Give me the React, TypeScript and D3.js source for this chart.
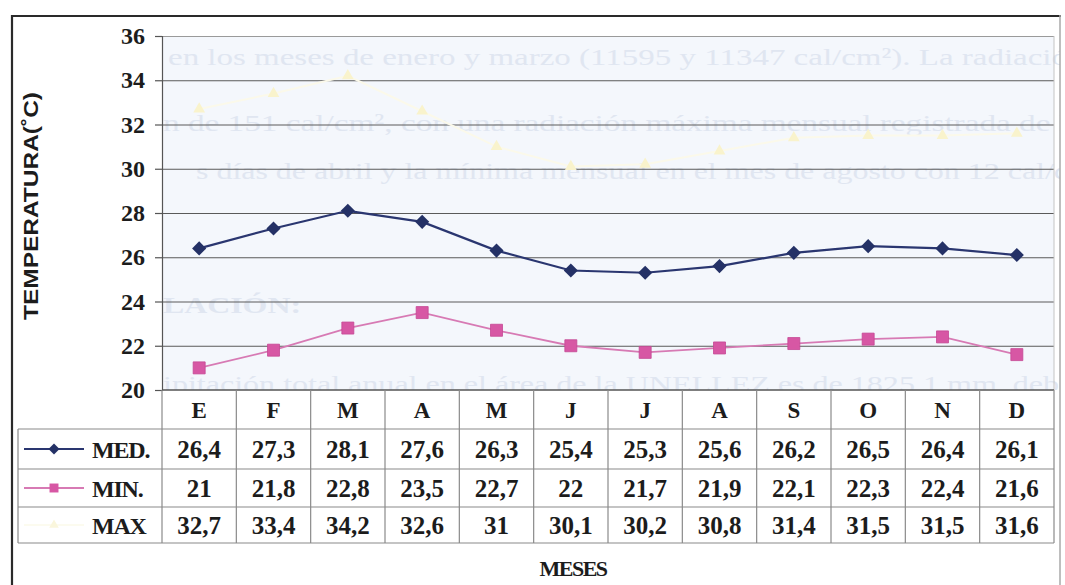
import * as d3 from "d3";
import React, { useEffect, useRef } from "react";

// months (letters repeat, so the band scale works on the index)
const months = ["E", "F", "M", "A", "M", "J", "J", "A", "S", "O", "N", "D"];
const medValues = [26.4, 27.3, 28.1, 27.6, 26.3, 25.4, 25.3, 25.6, 26.2, 26.5, 26.4, 26.1];
const minValues = [21, 21.8, 22.8, 23.5, 22.7, 22, 21.7, 21.9, 22.1, 22.3, 22.4, 21.6];
const maxValues = [32.7, 33.4, 34.2, 32.6, 31, 30.1, 30.2, 30.8, 31.4, 31.5, 31.5, 31.6];
const seriesNames = ["MED.", "MIN.", "MAX"];
const yTicks = [20, 22, 24, 26, 28, 30, 32, 34, 36];

// text bleeding through from the back of the scanned page
const ghostLines = [
  "en los meses de enero y  marzo (11595 y 11347 cal/cm²). La radiació",
  "n de 151 cal/cm², con una radiación máxima mensual registrada de l",
  "s días de abril y la mínima mensual en el mes de agosto con 12 cal/c",
  "LACIÓN:",
  "ipitación total anual en el área de la UNELLEZ es de 1825,1 mm, debi",
];

const W = 1065;
const H = 585;
const serif = "'Liberation Serif', 'Times New Roman', serif";
const sans = "'Liberation Sans', Arial, sans-serif";

const fmt = (v) => String(v).replace(".", ",");

const App = () => {
  const svgRef = useRef();

  useEffect(() => {
    const plot = { left: 162, right: 1054, top: 36, bottom: 390 };
    const rowY = [390, 429, 469, 507, 543];
    const tableLeft = 18;

    const svg = d3
      .select(svgRef.current)
      .html("")
      .attr("width", W)
      .attr("height", H)
      .attr("viewBox", `0 0 ${W} ${H}`);

    svg.append("rect").attr("width", W).attr("height", H).attr("fill", "#ffffff");

    const x = d3
      .scaleBand()
      .domain(months.map((d, i) => i))
      .range([plot.left, plot.right]);
    const y = d3.scaleLinear().domain([20, 36]).range([plot.bottom, plot.top]);

    // plot background
    svg
      .append("rect")
      .attr("x", plot.left)
      .attr("y", plot.top)
      .attr("width", plot.right - plot.left)
      .attr("height", plot.bottom - plot.top)
      .attr("fill", "#f4f7fc");

    // ghost text clipped to the plot
    svg
      .append("clipPath")
      .attr("id", "plotClip")
      .append("rect")
      .attr("x", plot.left)
      .attr("y", plot.top)
      .attr("width", plot.right - plot.left + 6)
      .attr("height", plot.bottom - plot.top);
    const ghost = svg.append("g").attr("clip-path", "url(#plotClip)");
    const ghostPos = [
      { x: 168, y: 65, w: 900 },
      { x: 163, y: 131, w: 905 },
      { x: 196, y: 179, w: 872 },
      { x: 163, y: 313, w: 138 },
      { x: 163, y: 392, w: 905 },
    ];
    ghost
      .selectAll("text")
      .data(ghostLines)
      .join("text")
      .attr("x", (d, i) => ghostPos[i].x)
      .attr("y", (d, i) => ghostPos[i].y)
      .attr("textLength", (d, i) => ghostPos[i].w)
      .attr("lengthAdjust", "spacingAndGlyphs")
      .style("font-family", serif)
      .style("font-size", "24px")
      .style("font-weight", (d, i) => (i === 3 ? "bold" : "normal"))
      .style("fill", "#e0e6f1")
      .text((d) => d);

    // gridlines
    svg
      .append("g")
      .selectAll("line")
      .data(yTicks.slice(1))
      .join("line")
      .attr("x1", plot.left)
      .attr("x2", plot.right)
      .attr("y1", (d) => y(d) + 0.5)
      .attr("y2", (d) => y(d) + 0.5)
      .attr("stroke", (d) => (d === 36 ? "#9a9a9a" : "#5a5a5a"))
      .attr("stroke-width", 1.2);

    // plot right edge
    svg
      .append("line")
      .attr("x1", plot.right)
      .attr("x2", plot.right)
      .attr("y1", plot.top)
      .attr("y2", plot.bottom)
      .attr("stroke", "#c4c4c4");

    // y axis
    const yAxis = svg
      .append("g")
      .attr("transform", `translate(${plot.left},0)`)
      .call(d3.axisLeft(y).tickValues(yTicks).tickSize(7).tickPadding(10));
    yAxis.select(".domain").attr("stroke", "#555").attr("stroke-width", 1.2);
    yAxis.selectAll(".tick line").attr("stroke", "#555").attr("stroke-width", 1.2);
    yAxis
      .selectAll(".tick text")
      .style("font-family", serif)
      .style("font-size", "24px")
      .style("font-weight", "bold")
      .style("fill", "#1c1c1c");

    // y title
    svg
      .append("text")
      .attr("transform", `translate(38,206) rotate(-90)`)
      .attr("text-anchor", "middle")
      .attr("textLength", 228)
      .attr("lengthAdjust", "spacingAndGlyphs")
      .style("font-family", sans)
      .style("font-size", "20px")
      .style("font-weight", "bold")
      .style("fill", "#1c1c1c")
      .text("TEMPERATURA(˚C)");

    // series lines and markers
    const cx = (i) => x(i) + x.bandwidth() / 2;
    const line = d3
      .line()
      .x((d, i) => cx(i))
      .y((d) => y(d));

    // MAX is almost washed out in the scan
    svg
      .append("path")
      .datum(maxValues)
      .attr("d", line)
      .attr("fill", "none")
      .attr("stroke", "#fbf9ea")
      .attr("stroke-width", 2);
    svg
      .append("g")
      .selectAll("path")
      .data(maxValues)
      .join("path")
      .attr("transform", (d, i) => `translate(${cx(i)},${y(d)})`)
      .attr("d", d3.symbol(d3.symbolTriangle, 60)())
      .attr("fill", "#f9f3cc");

    svg
      .append("path")
      .datum(minValues)
      .attr("d", line)
      .attr("fill", "none")
      .attr("stroke", "#d77ab4")
      .attr("stroke-width", 1.8);
    svg
      .append("g")
      .selectAll("path")
      .data(minValues)
      .join("path")
      .attr("transform", (d, i) => `translate(${cx(i)},${y(d)})`)
      .attr("d", d3.symbol(d3.symbolSquare, 144)())
      .attr("fill", "#d757a4")
      .attr("stroke", "#c54894")
      .attr("stroke-width", 0.8);

    svg
      .append("path")
      .datum(medValues)
      .attr("d", line)
      .attr("fill", "none")
      .attr("stroke", "#2a3670")
      .attr("stroke-width", 2.2);
    svg
      .append("g")
      .selectAll("path")
      .data(medValues)
      .join("path")
      .attr("transform", (d, i) => `translate(${cx(i)},${y(d)}) rotate(45)`)
      .attr("d", d3.symbol(d3.symbolSquare, 100)())
      .attr("fill", "#243166");

    // data table
    const table = svg.append("g");
    const gridColor = "#8a8a8a";
    table
      .selectAll("line.h")
      .data(rowY.slice(1))
      .join("line")
      .attr("class", "h")
      .attr("x1", tableLeft)
      .attr("x2", plot.right)
      .attr("y1", (d) => d)
      .attr("y2", (d) => d)
      .attr("stroke", gridColor)
      .attr("stroke-width", 1.2);
    table
      .append("line")
      .attr("x1", plot.left)
      .attr("x2", plot.right)
      .attr("y1", rowY[0])
      .attr("y2", rowY[0])
      .attr("stroke", "#555")
      .attr("stroke-width", 1.4);
    table
      .selectAll("line.v")
      .data(d3.range(months.length + 1))
      .join("line")
      .attr("class", "v")
      .attr("x1", (i) => plot.left + i * x.bandwidth())
      .attr("x2", (i) => plot.left + i * x.bandwidth())
      .attr("y1", rowY[0])
      .attr("y2", rowY[4])
      .attr("stroke", gridColor)
      .attr("stroke-width", 1.2);
    table
      .append("line")
      .attr("x1", tableLeft)
      .attr("x2", tableLeft)
      .attr("y1", rowY[1])
      .attr("y2", rowY[4])
      .attr("stroke", gridColor)
      .attr("stroke-width", 1.2);

    // month letters
    table
      .selectAll("text.m")
      .data(months)
      .join("text")
      .attr("class", "m")
      .attr("x", (d, i) => cx(i))
      .attr("y", (rowY[0] + rowY[1]) / 2 + 8)
      .attr("text-anchor", "middle")
      .style("font-family", serif)
      .style("font-size", "23px")
      .style("font-weight", "bold")
      .style("fill", "#1c1c1c")
      .text((d) => d);

    const rows = [medValues, minValues, maxValues];
    rows.forEach((vals, r) => {
      const midY = (rowY[r + 1] + rowY[r + 2]) / 2;
      table
        .append("g")
        .selectAll("text")
        .data(vals)
        .join("text")
        .attr("x", (d, i) => cx(i))
        .attr("y", midY + 8.5)
        .attr("text-anchor", "middle")
        .style("font-family", serif)
        .style("font-size", "25px")
        .style("font-weight", "bold")
        .style("fill", "#1c1c1c")
        .text((d) => fmt(d));

      table
        .append("text")
        .attr("x", 92)
        .attr("y", midY + 8.5)
        .style("font-family", serif)
        .style("font-size", "24px")
        .style("font-weight", "bold")
        .style("letter-spacing", "-1.2px")
        .style("fill", "#1c1c1c")
        .text(seriesNames[r]);
    });

    // legend keys in the table
    const keyY = (r) => (rowY[r + 1] + rowY[r + 2]) / 2;
    const keys = [
      { stroke: "#2a3670", fill: "#243166", sym: d3.symbolSquare, size: 60, rot: 45 },
      { stroke: "#d77ab4", fill: "#d757a4", sym: d3.symbolSquare, size: 80, rot: 0 },
      { stroke: "#fcfbef", fill: "#faf6dc", sym: d3.symbolTriangle, size: 40, rot: 0 },
    ];
    keys.forEach((k, r) => {
      table
        .append("line")
        .attr("x1", 24)
        .attr("x2", 84)
        .attr("y1", keyY(r))
        .attr("y2", keyY(r))
        .attr("stroke", k.stroke)
        .attr("stroke-width", 2);
      table
        .append("path")
        .attr("transform", `translate(54,${keyY(r)}) rotate(${k.rot})`)
        .attr("d", d3.symbol(k.sym, k.size)())
        .attr("fill", k.fill);
    });

    // x title
    svg
      .append("text")
      .attr("x", 573)
      .attr("y", 576)
      .attr("text-anchor", "middle")
      .style("font-family", serif)
      .style("font-size", "22px")
      .style("font-weight", "bold")
      .style("letter-spacing", "-1.5px")
      .style("fill", "#1c1c1c")
      .text("MESES");

    // outer frame
    svg
      .append("line")
      .attr("x1", 11)
      .attr("x2", 1061)
      .attr("y1", 16)
      .attr("y2", 16)
      .attr("stroke", "#2a2a2a")
      .attr("stroke-width", 2);
    svg
      .append("line")
      .attr("x1", 12)
      .attr("x2", 12)
      .attr("y1", 15)
      .attr("y2", H)
      .attr("stroke", "#2a2a2a")
      .attr("stroke-width", 2.2);
    svg
      .append("line")
      .attr("x1", 1060)
      .attr("x2", 1060)
      .attr("y1", 15)
      .attr("y2", H)
      .attr("stroke", "#a8a8a8")
      .attr("stroke-width", 1.5);
  }, []);

  return (
    <svg
      ref={svgRef}
      style={{ position: "absolute", top: 0, left: 0, display: "block" }}
    ></svg>
  );
};

export default App;
